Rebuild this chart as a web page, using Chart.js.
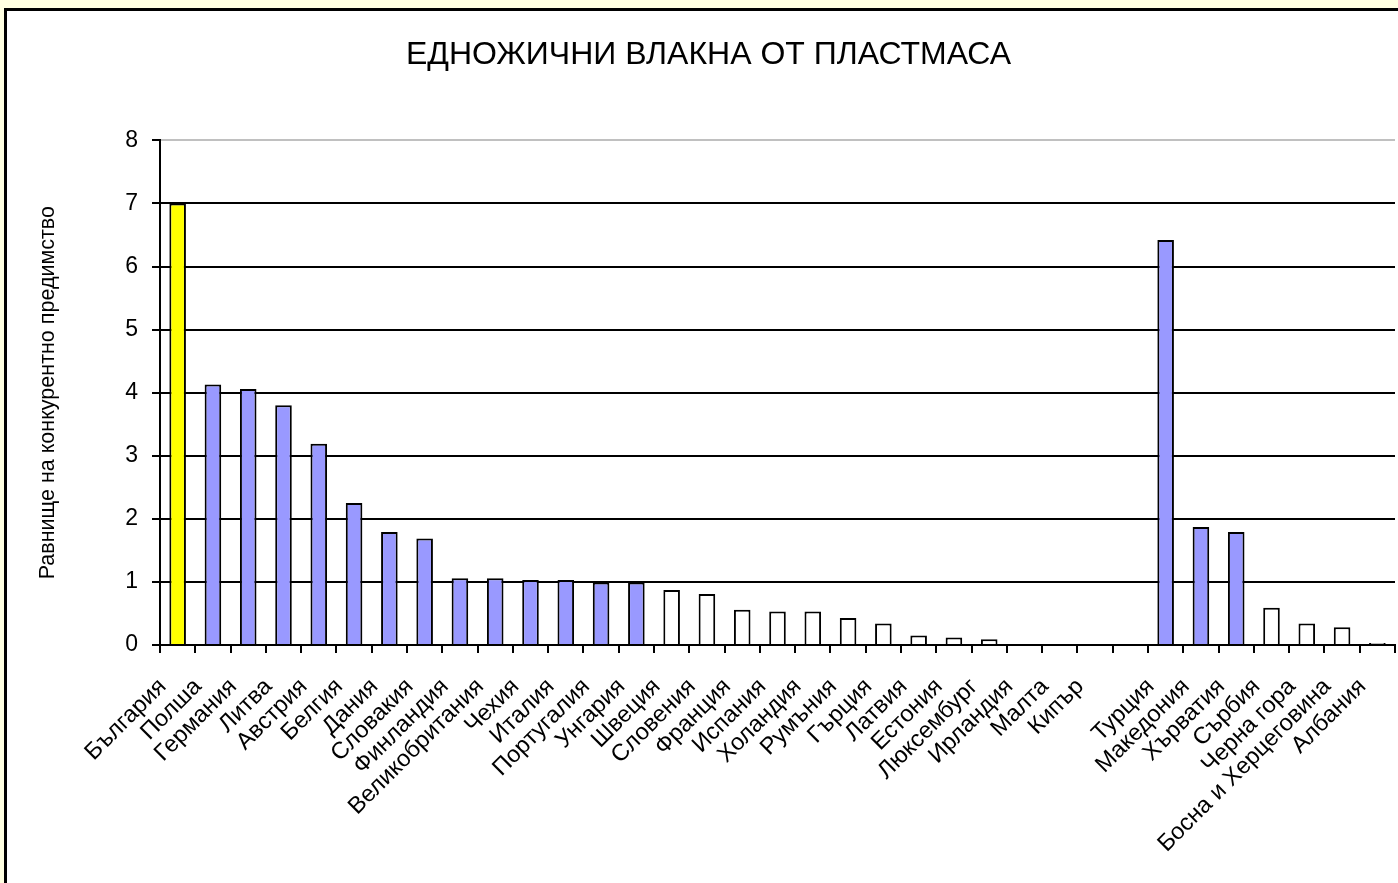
<!DOCTYPE html>
<html>
<head>
<meta charset="utf-8">
<script src="https://cdn.jsdelivr.net/npm/chart.js@4/dist/chart.umd.min.js"></script>
<style>
  html, body { margin: 0; padding: 0; overflow: hidden; background: #FFFFE1; }
  #frame { position: absolute; left: 4px; top: 8px; width: 1420px; height: 900px;
           border: 3px solid #000; background: #fff; }
  #mychart { position: absolute; left: 0; top: 0; }
</style>
</head>
<body>
<div id="frame"></div>
<canvas id="mychart" width="1398" height="883"></canvas>
<script>
/* single-fibre plastic: competitive advantage by country */
var countries = ["България", "Полша", "Германия", "Литва", "Австрия", "Белгия", "Дания",
  "Словакия", "Финландия", "Великобритания", "Чехия", "Италия", "Португалия", "Унгария",
  "Швеция", "Словения", "Франция", "Испания", "Холандия", "Румъния", "Гърция", "Латвия",
  "Естония", "Люксембург", "Ирландия", "Малта", "Кипър", "", "Турция", "Македония",
  "Хърватия", "Сърбия", "Черна гора", "Босна и Херцеговина", "Албания"];
var values = [7.0, 4.13, 4.06, 3.80, 3.19, 2.25, 1.79, 1.69, 1.06, 1.06, 1.03, 1.03, 0.99, 0.99,
  0.87, 0.81, 0.56, 0.53, 0.53, 0.43, 0.34, 0.15, 0.12, 0.09, 0, 0, 0, null,
  6.42, 1.87, 1.79, 0.59, 0.34, 0.28, 0.03];
// b = Bulgaria, a = above 1, o = others
var groups = ["b", "a", "a", "a", "a", "a", "a", "a", "a", "a", "a", "a", "a", "a",
  "o", "o", "o", "o", "o", "o", "o", "o", "o", "o", "o", "o", "o", "o",
  "a", "a", "a", "o", "o", "o", "o"];
var yTicks = [0, 1, 2, 3, 4, 5, 6, 7, 8];

var groupColors = { b: "#FFFF00", a: "#9999FF", o: "#FFFFFF" };
var fontFamily = "'Liberation Sans', Arial, sans-serif";

function chartCompetition(selector) {
  var ctx = document.getElementById(selector);
  if (!ctx) return;
  new Chart(ctx, {
    type: "bar",
    data: {
      labels: countries,
      datasets: [{
        data: values,
        backgroundColor: groups.map(function (g) { return groupColors[g]; }),
        borderColor: "#000",
        borderWidth: 2,
        barPercentage: 0.47,
        categoryPercentage: 1,
      }],
    },
    options: {
      responsive: false,
      devicePixelRatio: 1,
      animation: false,
      layout: { padding: { left: 22, right: 3, top: 8, bottom: 0 } },
      plugins: {
        legend: { display: false },
        tooltip: { enabled: false },
        title: {
          display: true,
          text: "ЕДНОЖИЧНИ ВЛАКНА ОТ ПЛАСТМАСА",
          color: "#000",
          font: { family: fontFamily, size: 32, weight: "normal" },
          padding: { top: 28, bottom: 66 },
        },
      },
      scales: {
        x: {
          offset: true,
          grid: { offset: true, drawOnChartArea: false, color: "#000", tickLength: 8, lineWidth: 2 },
          border: { color: "#000", width: 2 },
          ticks: {
            autoSkip: false, maxRotation: 45, minRotation: 45, padding: 20, labelOffset: -15,
            color: "#000", font: { family: fontFamily, size: 23.5 },
          },
          afterFit: function (scale) {
            scale.height = 883 - 645;
            scale.paddingLeft = 0;
            scale.paddingRight = 0;
          },
        },
        y: {
          min: 0, max: 8,
          afterBuildTicks: function (scale) {
            scale.ticks = yTicks.map(function (v) { return { value: v }; });
          },
          grid: {
            color: function (c) { return c.tick && c.tick.value === 8 ? "#c0c0c0" : "#000"; },
            tickColor: "#000", tickLength: 8, lineWidth: 2,
          },
          border: { color: "#000", width: 2 },
          ticks: { padding: 14, color: "#000", font: { family: fontFamily, size: 23 } },
          title: {
            display: true,
            text: "Равнище на конкурентно предимство",
            color: "#000",
            font: { family: fontFamily, size: 21.5 },
            padding: { top: 13, bottom: 0 },
          },
          afterFit: function (scale) { scale.width = 160 - 22; },
        },
      },
    },
  });
}
chartCompetition("mychart");
</script>
</body>
</html>
